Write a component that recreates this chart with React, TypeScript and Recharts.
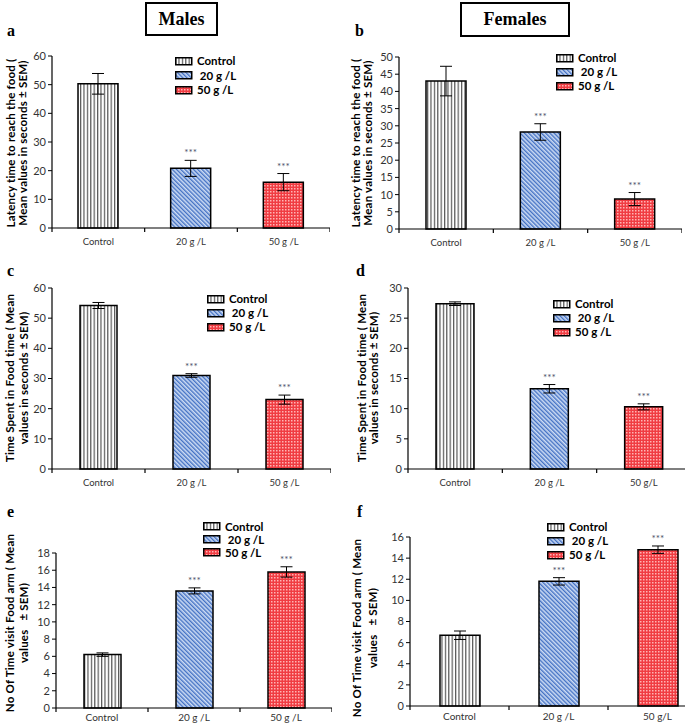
import React from "react";
import { Bar, BarChart, Cell, ErrorBar, LabelList, Legend, XAxis, YAxis } from "recharts";

// categories and legend
const categories = ["Control", "20 g /L", "50 g /L"];
const categoriesAlt = ["Control", "20 g /L", "50 g/L"];
const legendLabels = ["Control", " 20 g /L", "50 g /L"];
const significance = ["", "***", "***"];

// a - latency, males
const latencyMales = [50.3, 20.8, 16.0];
const latencyMalesSem = [3.6, 2.8, 3.0];
// b - latency, females
const latencyFemales = [43.0, 28.2, 8.7];
const latencyFemalesSem = [4.3, 2.4, 1.9];
// c - time in food arm, males
const foodTimeMales = [54.2, 31.0, 23.0];
const foodTimeMalesSem = [1.0, 0.6, 1.5];
// d - time in food arm, females
const foodTimeFemales = [27.4, 13.3, 10.3];
const foodTimeFemalesSem = [0.3, 0.7, 0.5];
// e - visits, males
const visitsMales = [6.2, 13.6, 15.8];
const visitsMalesSem = [0.2, 0.35, 0.6];
// f - visits, females
const visitsFemales = [6.7, 11.8, 14.8];
const visitsFemalesSem = [0.4, 0.35, 0.35];

const ticks60 = [0, 10, 20, 30, 40, 50, 60];
const ticks50 = [0, 5, 10, 15, 20, 25, 30, 35, 40, 45, 50];
const ticks30 = [0, 5, 10, 15, 20, 25, 30];
const ticks18 = [0, 2, 4, 6, 8, 10, 12, 14, 16, 18];
const ticks16 = [0, 2, 4, 6, 8, 10, 12, 14, 16];

const latencyLabel = ["Latency time to reach the food (", "Mean values in seconds \u00b1 SEM)"];
const foodTimeLabel = ["Time Spent in Food time ( Mean", "values in seconds \u00b1 SEM)"];
const visitsLabel = ["No Of Time visit Food arm ( Mean", "values   \u00b1 SEM)"];

const patternIds = ["patCtrl", "pat20", "pat50"];
const sans = "Lato, 'Open Sans', sans-serif";
const serif = "'Liberation Serif', 'Times New Roman', serif";

const X_TICK_SIZE = 4;

type PanelProps = {
  letter: string;
  letterPos: [number, number];
  plot: { left: number; top: number; right: number; bottom: number };
  ticks: number[];
  values: number[];
  sem: number[];
  cats: string[];
  catFont: number;
  catGap: number;
  barSize: number;
  legend: { x: number; y: number; row: number };
  yLabel: string[];
  yLabelX: [number, number];
  yLabelY: number;
};

const panels: PanelProps[] = [
  {
    letter: "a", letterPos: [7, 22],
    plot: { left: 52, top: 56, right: 330, bottom: 228 },
    ticks: ticks60, values: latencyMales, sem: latencyMalesSem, cats: categories, catFont: 9.5, catGap: 6, barSize: 40,
    legend: { x: 175, y: 54, row: 14.5 },
    yLabel: latencyLabel, yLabelX: [11, 23], yLabelY: 143,
  },
  {
    letter: "b", letterPos: [355, 22],
    plot: { left: 399, top: 57, right: 682, bottom: 229 },
    ticks: ticks50, values: latencyFemales, sem: latencyFemalesSem, cats: categories, catFont: 9.5, catGap: 6, barSize: 40,
    legend: { x: 556, y: 51, row: 14 },
    yLabel: latencyLabel, yLabelX: [356, 368], yLabelY: 143,
  },
  {
    letter: "c", letterPos: [7, 262],
    plot: { left: 52, top: 288, right: 331, bottom: 469 },
    ticks: ticks60, values: foodTimeMales, sem: foodTimeMalesSem, cats: categories, catFont: 9.5, catGap: 6, barSize: 37,
    legend: { x: 207, y: 292, row: 14 },
    yLabel: foodTimeLabel, yLabelX: [10, 24], yLabelY: 378,
  },
  {
    letter: "d", letterPos: [356, 262],
    plot: { left: 408, top: 288, right: 691, bottom: 469 },
    ticks: ticks30, values: foodTimeFemales, sem: foodTimeFemalesSem, cats: categoriesAlt, catFont: 9.5, catGap: 6, barSize: 38,
    legend: { x: 553, y: 297, row: 14 },
    yLabel: foodTimeLabel, yLabelX: [362, 374], yLabelY: 378,
  },
  {
    letter: "e", letterPos: [7, 503],
    plot: { left: 56, top: 553, right: 332, bottom: 708 },
    ticks: ticks18, values: visitsMales, sem: visitsMalesSem, cats: categories, catFont: 10, catGap: 2, barSize: 37,
    legend: { x: 203, y: 520, row: 13 },
    yLabel: visitsLabel, yLabelX: [10, 24], yLabelY: 623,
  },
  {
    letter: "f", letterPos: [357, 503],
    plot: { left: 410, top: 537, right: 707, bottom: 706 },
    ticks: ticks16, values: visitsFemales, sem: visitsFemalesSem, cats: categoriesAlt, catFont: 10, catGap: 3, barSize: 40,
    legend: { x: 547, y: 520, row: 14 },
    yLabel: visitsLabel, yLabelX: [357, 373], yLabelY: 628,
  },
];

function Patterns() {
  return (
    <svg width={0} height={0} style={{ position: "absolute" }}>
      <defs>
        <pattern id="patCtrl" patternUnits="userSpaceOnUse" width={3.4} height={4}>
          <rect width={3.4} height={4} fill="#ffffff" />
          <rect x={0} width={1.2} height={4} fill="#555555" />
        </pattern>
        <pattern id="pat20" patternUnits="userSpaceOnUse" width={3} height={3} patternTransform="rotate(-45)">
          <rect width={3} height={3} fill="#cddcf4" />
          <rect width={1.4} height={3} fill="#4472c4" />
        </pattern>
        <pattern id="pat50" patternUnits="userSpaceOnUse" width={3} height={3}>
          <rect width={3} height={3} fill="#f03c42" />
          <rect width={1.5} height={1.5} fill="#ffb4b4" />
        </pattern>
      </defs>
    </svg>
  );
}

function LegendBox({ row }: { row: number }) {
  return (
    <div style={{ fontFamily: sans, fontWeight: 700, fontSize: 11.5, lineHeight: `${row}px`, color: "#000" }}>
      {legendLabels.map((label, i) => (
        <div key={label} style={{ display: "flex", alignItems: "center", height: row, whiteSpace: "pre" }}>
          <svg width={18} height={9}>
            <rect x={0.75} y={0.75} width={16} height={7} fill={`url(#${patternIds[i]})`} stroke="#000" strokeWidth={1.5} />
          </svg>
          <span style={{ marginLeft: 4 }}>{label}</span>
        </div>
      ))}
    </div>
  );
}

// category label plus a tick mark on the left edge of each band (and the right edge of the last one)
function CategoryTick(props: any) {
  const { x, y, payload, index, width, visibleTicksCount, fontSize, gap } = props;
  const band = width && visibleTicksCount ? width / visibleTicksCount : 0;
  const lineTop = y - X_TICK_SIZE - gap;
  return (
    <g>
      {band > 0 && (
        <line x1={x - band / 2} x2={x - band / 2} y1={lineTop} y2={lineTop + X_TICK_SIZE} stroke="#000" strokeWidth={1.2} />
      )}
      {band > 0 && index === visibleTicksCount - 1 && (
        <line x1={x + band / 2} x2={x + band / 2} y1={lineTop} y2={lineTop + X_TICK_SIZE} stroke="#000" strokeWidth={1.2} />
      )}
      <text x={x} y={y} dy="0.71em" textAnchor="middle" fontSize={fontSize} fontFamily={sans} fill="#333">
        {payload.value}
      </text>
    </g>
  );
}

function Panel(p: PanelProps) {
  const yAxisWidth = 40;
  const xAxisHeight = 24;
  const chartLeft = p.plot.left - yAxisWidth;
  const chartTop = p.plot.top - 12;
  const width = p.plot.right - chartLeft;
  const height = p.plot.bottom + xAxisHeight - chartTop;
  const data = p.cats.map((name, i) => ({ name, value: p.values[i], sem: p.sem[i], sig: significance[i] }));
  const yMax = p.ticks[p.ticks.length - 1];

  const renderStars = (props: any) => {
    const { x, y, width: w, height: h, index, value } = props;
    if (!value) return null;
    const v = p.values[index];
    const top = y - (p.sem[index] * h) / v;
    return (
      <text x={x + w / 2} y={top - 4} textAnchor="middle" fontSize={10} fontFamily={sans} fill="#4a5068">
        {value}
      </text>
    );
  };

  return (
    <>
      <div style={{ position: "absolute", left: p.letterPos[0], top: p.letterPos[1], fontFamily: serif, fontWeight: 700, fontSize: 16 }}>
        {p.letter}
      </div>
      {p.yLabel.map((line, i) => (
        <div
          key={i}
          style={{
            position: "absolute",
            left: p.yLabelX[i] - 150,
            top: p.yLabelY - 8,
            width: 300,
            height: 16,
            lineHeight: "16px",
            textAlign: "center",
            transform: "rotate(-90deg)",
            fontFamily: sans,
            fontWeight: 700,
            fontSize: 11.5,
            letterSpacing: 0.2,
            whiteSpace: "pre",
          }}
        >
          {line}
        </div>
      ))}
      <div style={{ position: "absolute", left: chartLeft, top: chartTop }}>
        <BarChart width={width} height={height} data={data} margin={{ top: 12, right: 0, bottom: 0, left: 0 }}>
          <XAxis
            dataKey="name"
            height={xAxisHeight}
            axisLine={{ stroke: "#000", strokeWidth: 1.2 }}
            tickLine={false}
            tickSize={X_TICK_SIZE}
            tickMargin={p.catGap}
            interval={0}
            tick={<CategoryTick fontSize={p.catFont} gap={p.catGap} />}
          />
          <YAxis
            width={yAxisWidth}
            domain={[0, yMax]}
            ticks={p.ticks}
            interval={0}
            axisLine={{ stroke: "#000", strokeWidth: 1.2 }}
            tickLine={{ stroke: "#000" }}
            tickSize={4}
            tickMargin={2}
            tick={{ fontSize: 11, fontFamily: sans, fill: "#333" }}
          />
          <Legend
            layout="vertical"
            align="center"
            verticalAlign="middle"
            wrapperStyle={{ position: "absolute", left: p.legend.x - chartLeft, top: p.legend.y - chartTop, width: "auto" }}
            content={() => <LegendBox row={p.legend.row} />}
          />
          <Bar dataKey="value" barSize={p.barSize} stroke="#000" strokeWidth={1.5} isAnimationActive={false}>
            {data.map((d, i) => (
              <Cell key={d.name} fill={`url(#${patternIds[i]})`} />
            ))}
            <ErrorBar dataKey="sem" direction="y" width={6} stroke="#000" strokeWidth={1} isAnimationActive={false} />
            <LabelList dataKey="sig" content={renderStars} />
          </Bar>
        </BarChart>
      </div>
    </>
  );
}

function Header({ text, left, top, width, height }: { text: string; left: number; top: number; width: number; height: number }) {
  return (
    <div
      style={{
        position: "absolute",
        left,
        top,
        width,
        height,
        boxSizing: "border-box",
        border: "2px solid #000",
        display: "flex",
        alignItems: "center",
        justifyContent: "center",
        fontFamily: serif,
        fontWeight: 700,
        fontSize: 18,
      }}
    >
      {text}
    </div>
  );
}

export default function App() {
  return (
    <div style={{ position: "absolute", left: 0, top: 0, width: 685, height: 725, overflow: "hidden", background: "#fff" }}>
      <Patterns />
      <Header text="Males" left={145} top={2} width={73} height={34} />
      <Header text="Females" left={460} top={2} width={110} height={35} />
      {panels.map((p) => (
        <Panel key={p.letter} {...p} />
      ))}
    </div>
  );
}
